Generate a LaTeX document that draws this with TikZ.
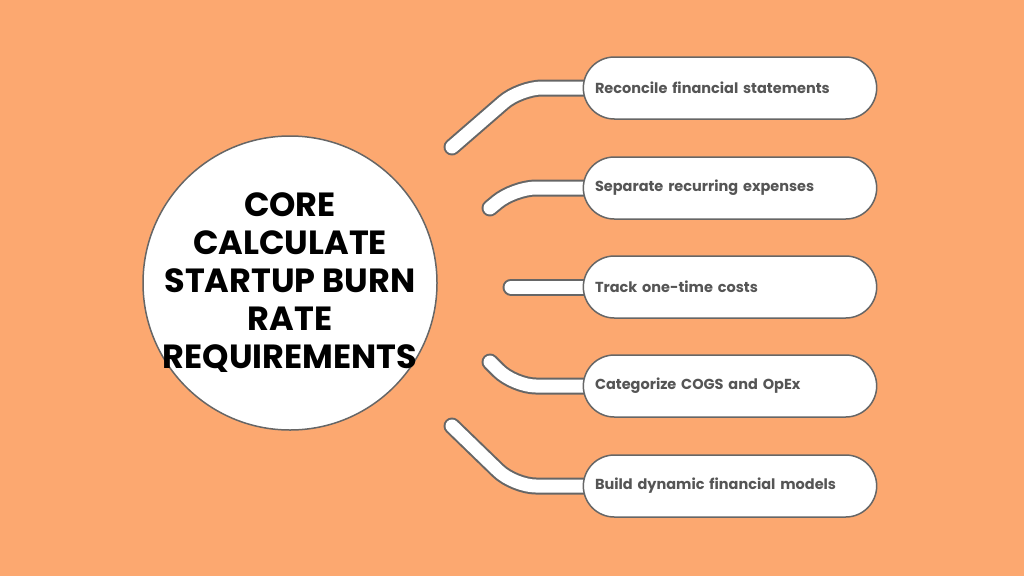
\documentclass[tikz,border=0pt]{standalone}
\usepackage{fontspec}
\setmainfont{Poppins}
\usetikzlibrary{shapes.misc}
\definecolor{bgorange}{HTML}{FCA870}
\definecolor{edgegray}{HTML}{666666}
\definecolor{textgray}{HTML}{555555}
\tikzset{
  item/.style={rounded rectangle, draw=edgegray, line width=1.5pt, fill=white,
    minimum width=300pt, minimum height=62pt, text width=270pt, align=left,
    font=\bfseries\fontsize{14.5}{17}\selectfont, text=textgray},
  tube/.style={line width=17pt, draw=edgegray, line cap=round, rounded corners=22pt},
  tubein/.style={line width=13pt, draw=white, line cap=round, rounded corners=22pt},
}
\begin{document}
\begin{tikzpicture}[x=1pt,y=-1pt]
    \fill[bgorange] (0,0) rectangle (1024,576);
    \useasboundingbox (0,0) rectangle (1024,576);

    % free ends of the connectors
    \coordinate (e1) at (452,147);
    \coordinate (e2) at (490,208);
    \coordinate (e3) at (511,287);
    \coordinate (e4) at (490,362);
    \coordinate (e5) at (452,426);

    % connectors
    \foreach \s in {tube,tubein}{
      \draw[\s] (e1) -- (520,88) -- (600,88);
      \draw[\s] (e2) -- (514,188) -- (600,188);
      \draw[\s] (e3) -- (600,287);
      \draw[\s] (e4) -- (514,386) -- (600,386);
      \draw[\s] (e5) -- (514,486) -- (600,486);
    }

    % items
    \node[item] (r1) at (730,88) {Reconcile financial statements};
    \node[item] (r2) at (730,188) {Separate recurring expenses};
    \node[item] (r3) at (730,287) {Track one-time costs};
    \node[item] (r4) at (730,386) {Categorize COGS and OpEx};
    \node[item] (r5) at (730,486) {Build dynamic financial models};

    % core
    \node[circle, draw=edgegray, line width=1.5pt, fill=white, inner sep=0pt,
      minimum size=294pt] (core) at (290,283) {};
    \node[align=center, font=\bfseries\fontsize{33.5}{38}\selectfont] (title) at (core)
      {CORE\\CALCULATE\\STARTUP BURN\\RATE\\REQUIREMENTS};
\end{tikzpicture}
\end{document}
